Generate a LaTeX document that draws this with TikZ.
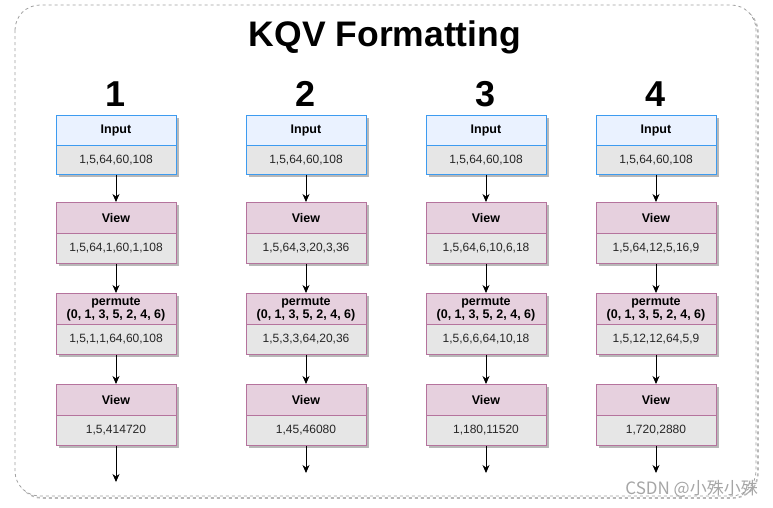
\documentclass[tikz,border=0pt]{standalone}
\usepackage{fontspec}
\setmainfont{Liberation Sans}
\newfontfamily\cjkfont{Noto Sans CJK SC}
\usetikzlibrary{arrows.meta,shadows}
\definecolor{blueStroke}{HTML}{3D9BF0}
\definecolor{blueFill}{HTML}{EAF2FF}
\definecolor{pinkStroke}{HTML}{B5739D}
\definecolor{pinkFill}{HTML}{E6D0DE}
\definecolor{bodyFill}{HTML}{E6E6E6}
\definecolor{shadowGray}{HTML}{B8B8B8}
\definecolor{frameGray}{HTML}{A0A0A0}
\tikzset{
  boxshadow/.style={drop shadow={shadow xshift=3pt,shadow yshift=-3pt,fill=shadowGray,opacity=1}},
  hdr/.style={draw,line width=0.8pt,minimum width=120pt,inner sep=0pt,align=center,anchor=north,
    font=\bfseries\fontsize{12.5}{14}\selectfont,boxshadow},
  bluehdr/.style={hdr,draw=blueStroke,fill=blueFill,minimum height=30pt},
  pinkhdr/.style={hdr,draw=pinkStroke,fill=pinkFill,minimum height=31pt},
  bodybox/.style={draw,line width=0.8pt,fill=bodyFill,minimum width=120pt,inner sep=0pt,anchor=north,
    font=\fontsize{12}{14}\selectfont,text=black!85,boxshadow},
  bluebody/.style={bodybox,draw=blueStroke,minimum height=29pt},
  pinkbody/.style={bodybox,draw=pinkStroke,minimum height=30pt},
  flow/.style={draw=black,line width=0.9pt,-{Stealth[length=8pt,width=7pt,inset=2.5pt]}},
  colnum/.style={font=\bfseries\fontsize{36}{36}\selectfont,anchor=base,inner sep=0pt},
  titletext/.style={font=\bfseries\fontsize{35.5}{36}\selectfont,anchor=base,inner sep=0pt},
}
\begin{document}
\begin{tikzpicture}[x=1pt,y=-1pt]
\useasboundingbox (0,0) rectangle (773,507);
% outer frame with shadow
\draw[shadowGray,line width=1.6pt,dashed,rounded corners=25pt] (17.5,7.5) rectangle (758,498);
\draw[frameGray,line width=0.8pt,dashed,fill=white,rounded corners=25pt] (15,5) rectangle (756,496);
\node[titletext] (title) at (385,46) {KQV Formatting};
\foreach \i/\cx/\va/\vb/\vc/\e in {
  1/116/{1,5,64,1,60,1,108}/{1,5,1,1,64,60,108}/{1,5,414720}/482,
  2/306/{1,5,64,3,20,3,36}/{1,5,3,3,64,20,36}/{1,45,46080}/473,
  3/486/{1,5,64,6,10,6,18}/{1,5,6,6,64,10,18}/{1,180,11520}/473,
  4/656/{1,5,64,12,5,16,9}/{1,5,12,12,64,5,9}/{1,720,2880}/473}{
  \node[colnum] (num\i) at (\cx,106) {\i};
  \node[bluehdr] (in\i) at (\cx,115) {Input};
  \node[bluebody] (inb\i) at (\cx,145) {1,5,64,60,108};
  \node[pinkhdr] (v\i) at (\cx,202) {View};
  \node[pinkbody] (vb\i) at (\cx,233) {\va};
  \node[pinkhdr] (p\i) at (\cx,293) {permute\\[-1pt](0, 1, 3, 5, 2, 4, 6)};
  \node[pinkbody] (pb\i) at (\cx,324) {\vb};
  \node[pinkhdr] (w\i) at (\cx,384) {View};
  \node[pinkbody] (wb\i) at (\cx,415) {\vc};
  \coordinate (end\i) at (\cx,\e);
  \draw[flow] (inb\i.south) -- (v\i.north);
  \draw[flow] (vb\i.south) -- (p\i.north);
  \draw[flow] (pb\i.south) -- (w\i.north);
  \draw[flow] (wb\i.south) -- (end\i);
}
\node[anchor=east,inner sep=0pt,font=\cjkfont\fontsize{17}{17}\selectfont,text=black!35] (wm) at (758,489) {CSDN @小殊小殊};
\end{tikzpicture}
\end{document}
